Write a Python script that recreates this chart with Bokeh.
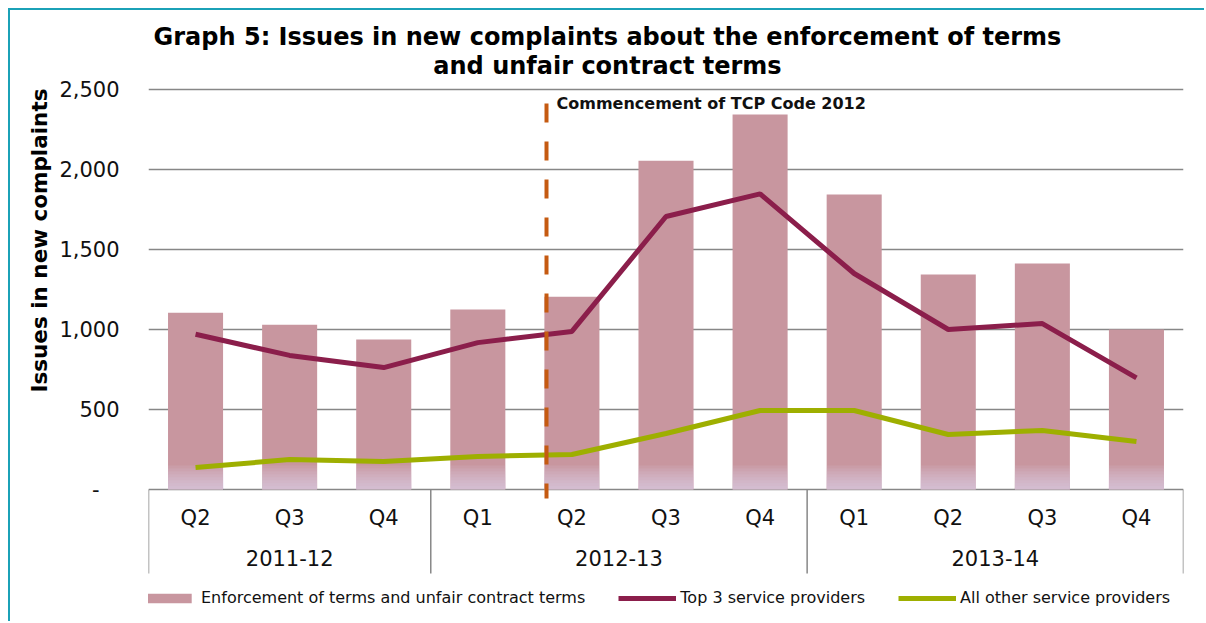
from bokeh.plotting import figure
from bokeh.models import (Range1d, FixedTicker, Title, Legend, LegendItem,
                          ColumnDataSource, NumeralTickFormatter)
from bokeh.core.properties import value
from bokeh.embed import file_html
from bokeh.resources import INLINE

# ---------------- data ----------------
years = ["2011-12", "2012-13", "2013-14"]
year_sizes = [3, 4, 4]
quarters = ["Q2", "Q3", "Q4", "Q1", "Q2", "Q3", "Q4", "Q1", "Q2", "Q3", "Q4"]
enforcement = [1105, 1030, 937, 1125, 1205, 2055, 2344, 1844, 1344, 1412, 1000]
top3 = [970, 838, 762, 918, 988, 1706, 1848, 1350, 1000, 1037, 698]
others = [137, 187, 175, 206, 219, 350, 494, 494, 344, 369, 300]
y_ticks = [0, 500, 1000, 1500, 2000, 2500]
tcp_label = "Commencement of TCP Code 2012"
tcp_x = 4.23  # position of the commencement marker on the category scale

title_1 = "Graph 5: Issues in new complaints about the enforcement of terms"
title_2 = "and unfair contract terms"
y_label = "Issues in new complaints"
legend_labels = ["Enforcement of terms and unfair contract terms",
                 "Top 3 service providers", "All other service providers"]

# ---------------- style ----------------
FONT = "DejaVu Sans"
BAR = "#C8969F"
TOP3 = "#8B1E4B"
OTHER = "#9EAF00"
GRID = "#878787"
DASH = "#C55A11"
TEAL = "#1BA1B7"
TXT = "#111111"

n = len(quarters)
xc = [i + 0.5 for i in range(n)]
src = ColumnDataSource(dict(x=xc, enf=enforcement, top3=top3, other=others))

p = figure(width=1196, height=613,
           x_range=Range1d(0, n), y_range=Range1d(-837.5, 2993.75),
           output_backend="svg", toolbar_location=None, x_axis_location=None,
           min_border_left=138, min_border_right=23, min_border_top=0, min_border_bottom=0)
p.styles = {"margin-left": "8px", "margin-top": "8px",
            "border-left": f"2px solid {TEAL}", "border-top": f"2px solid {TEAL}"}
p.outline_line_color = None
p.background_fill_color = "white"
p.border_fill_color = "white"

p.xgrid.visible = False
p.ygrid.ticker = FixedTicker(ticks=y_ticks)
p.ygrid.grid_line_color = GRID
p.ygrid.grid_line_width = 1.5

ax = p.yaxis[0]
ax.ticker = FixedTicker(ticks=y_ticks)
ax.formatter = NumeralTickFormatter(format="0,0")
ax.major_label_overrides = {0: "-\u00a0\u00a0\u00a0"}
ax.axis_line_color = None
ax.major_tick_line_color = None
ax.minor_tick_line_color = None
ax.major_tick_out = 0
ax.major_tick_in = 0
ax.major_label_standoff = 29
ax.major_label_text_font = FONT
ax.major_label_text_font_size = "21px"
ax.major_label_text_color = TXT

# bars
bars = p.vbar(x="x", top="enf", width=0.585, source=src,
              fill_color=BAR, line_color=None)
# soft fade at the foot of the bars
for k in range(1, 9):
    p.vbar(x="x", top=150 * k / 8, bottom=0, width=0.585, source=src,
           fill_color="#DCD8EC", fill_alpha=0.12, line_color=None)

# lines
l_top3 = p.line("x", "top3", source=src, line_width=5, line_color=TOP3)
l_other = p.line("x", "other", source=src, line_width=5, line_color=OTHER)

# commencement marker
p.line(x=[tcp_x, tcp_x], y=[2531, -56], line_color=DASH, line_width=4,
       line_dash="19 19", line_dash_offset=19)
p.text(x=[tcp_x + 0.106], y=[2412], text=[tcp_label], text_font=value(FONT),
       text_font_size="16px", text_font_style="bold", text_color=TXT,
       text_align="left", text_baseline="middle")

# two-level category axis
bounds = [0]
for s in year_sizes:
    bounds.append(bounds[-1] + s)
p.segment(x0=bounds, y0=[0] * len(bounds), x1=bounds, y1=[-525] * len(bounds),
          line_color=GRID, line_width=1.5)
p.text(x=xc, y=[-181] * n, text=quarters, text_font=value(FONT),
       text_font_size="21px", text_color=TXT, text_align="center", text_baseline="middle")
year_x = [(bounds[i] + bounds[i + 1]) / 2 for i in range(len(years))]
p.text(x=year_x, y=[-425] * len(years), text=years, text_font=value(FONT),
       text_font_size="21px", text_color=TXT, text_align="center", text_baseline="middle")

# title
p.text(x=[4.878], y=[2831], text=[title_1], text_font=value(FONT), text_font_size="24px",
       text_font_style="bold", text_color="black", text_align="center", text_baseline="middle")
p.text(x=[4.878], y=[2644], text=[title_2], text_font=value(FONT), text_font_size="24px",
       text_font_style="bold", text_color="black", text_align="center", text_baseline="middle")

# y label
p.add_layout(Title(text=y_label, align="right", offset=78, standoff=10, text_font=FONT,
                   text_font_size="21.5px", text_font_style="bold", text_color="black"), "left")

legend = Legend(items=[LegendItem(label=legend_labels[0], renderers=[bars]),
                       LegendItem(label=legend_labels[1], renderers=[l_top3]),
                       LegendItem(label=legend_labels[2], renderers=[l_other])],
                orientation="horizontal", location=(-9, 16), padding=0, margin=0,
                border_line_color=None, background_fill_alpha=0,
                glyph_width=58, glyph_height=12, label_standoff=4, spacing=33,
                label_text_font=FONT, label_text_font_size="16px", label_height=18,
                label_text_color=TXT)
p.add_layout(legend)

open("out.html", "w").write(file_html(p, INLINE))
